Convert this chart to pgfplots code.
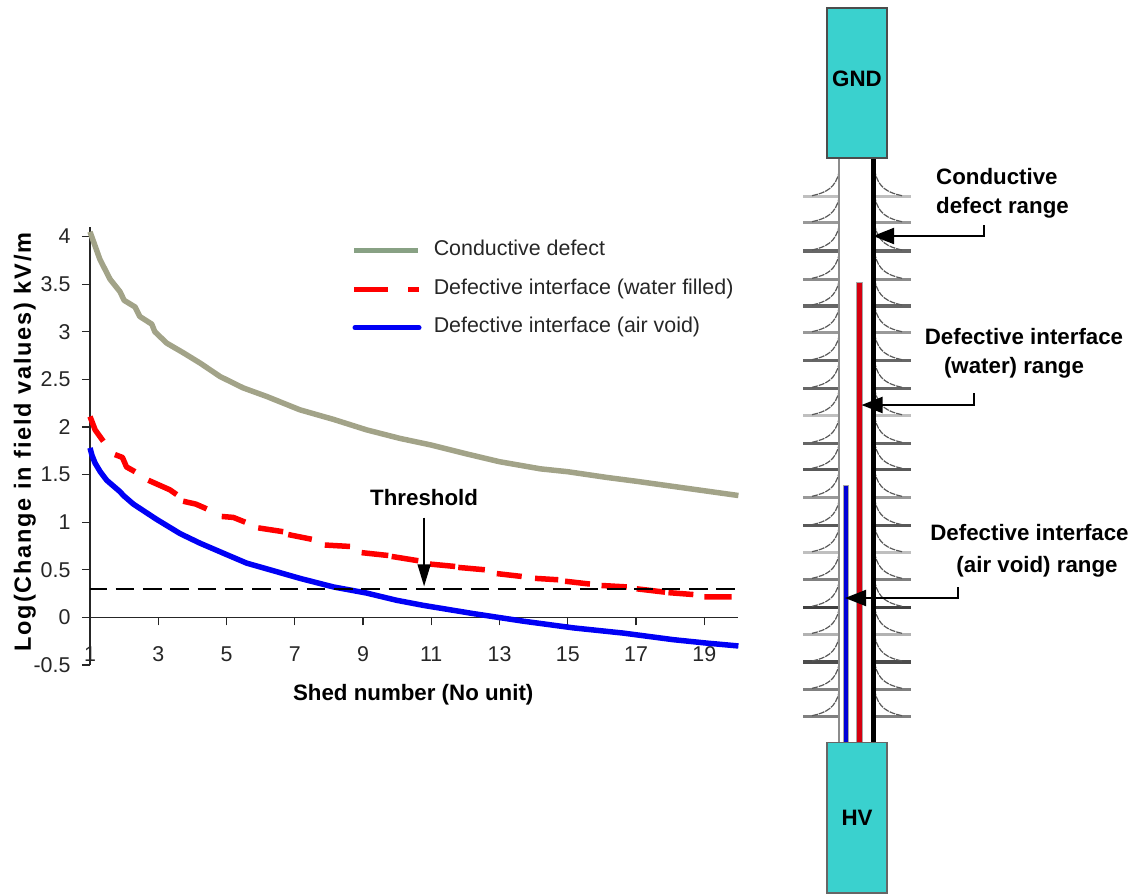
\documentclass[border=0pt]{standalone}
\usepackage{pgfplots}
\pgfplotsset{compat=1.18}
\usepackage{fontspec}
\setmainfont{Liberation Sans}
\usetikzlibrary{arrows.meta}
\newcommand\lab{\fontsize{21.4}{25}\selectfont\color{black!85}}
\newcommand\blab{\fontsize{22.3}{26}\selectfont\bfseries}
\newcommand\ylab{\fontsize{23.5}{26}\selectfont\bfseries\addfontfeature{LetterSpace=7.8}}
\newcommand\shed[2]{%
 \draw[line width=3.5pt,color=black!#2] (803,#1)--(839,#1) (876,#1)--(911,#1);
 \draw[line width=1.2pt,color=black!65,dash pattern=on 6pt off 1pt] (812,#1-1) .. controls (826,#1-4) and (836,#1-9) .. (839,#1-25);
 \draw[line width=1.2pt,color=black!65,dash pattern=on 6pt off 1pt] (902,#1-1) .. controls (888,#1-4) and (878,#1-9) .. (875,#1-25);
}
\definecolor{teal1}{HTML}{3AD1CE}
\definecolor{cond}{HTML}{A2A388}
\definecolor{condleg}{HTML}{88A184}
\begin{document}
\begin{tikzpicture}
\useasboundingbox (0pt,0pt) rectangle (1135pt,895pt);
% ---------- diagram ----------
\begin{axis}[at={(0pt,0pt)},anchor=south west,scale only axis,width=1135pt,height=895pt,
  xmin=0,xmax=1135,ymin=0,ymax=895,y dir=reverse,hide axis,clip=false]
\shed{196.7}{25}\shed{222.7}{40}\shed{251}{60}\shed{279.3}{45}\shed{306}{60}
\shed{332.7}{40}\shed{360.7}{60}\shed{388.3}{60}\shed{415.7}{25}\shed{443.3}{60}
\shed{469.3}{65}\shed{497.3}{40}\shed{525.7}{65}\shed{552.7}{25}\shed{579.3}{50}
\shed{607.3}{75}\shed{634.3}{30}\shed{662}{70}\shed{689.3}{50}\shed{716.7}{50}
\fill[white] (839.8,158) rectangle (871,742);
\draw[line width=1.5pt,color=black!45] (839,158)--(839,742);
\draw[line width=6.5pt,color=black!35] (859.7,282)--(859.7,742);
\draw[line width=4.6pt,color={rgb,255:red,214;green,0;blue,16}] (859.7,282.5)--(859.7,742);
\draw[line width=6.5pt,color=black!35] (846,485)--(846,742);
\draw[line width=4.6pt,color={rgb,255:red,0;green,0;blue,214}] (846,485.5)--(846,742);
\draw[line width=5pt,color=black] (873.3,158)--(873.3,742);
\draw[line width=1.6pt,color=black!70,fill=teal1] (826.7,8) rectangle (887,158);
\draw[line width=1.6pt,color=black!60,fill=teal1] (826.7,742.3) rectangle (887,892.7);
\node[font=\blab] at (857,79) {GND};
\node[font=\blab] at (857,818) {HV};
\draw[line width=2pt,-{Triangle[length=21pt,width=16pt]}] (984,225)--(984,236)--(873,236);
\draw[line width=2pt,-{Triangle[length=21pt,width=16pt]}] (974,393)--(974,405)--(861.5,405);
\draw[line width=2pt,-{Triangle[length=21pt,width=16pt]}] (957.7,587)--(957.7,598)--(845,598);
\node[font=\blab,anchor=west,inner sep=0pt] at (936,177) {Conductive};
\node[font=\blab,anchor=west,inner sep=0pt] at (936,208) {defect range};
\node[font=\blab,anchor=center,inner sep=0pt] at (1024,337) {Defective interface};
\node[font=\blab,anchor=center,inner sep=0pt] at (1014,368) {(water) range};
\node[font=\blab,anchor=center,inner sep=0pt] at (1029.5,533) {Defective interface};
\node[font=\blab,anchor=center,inner sep=0pt] at (1037,566.7) {(air void) range};
\end{axis}
% ---------- chart ----------
\begin{axis}[at={(90pt,230pt)},anchor=south west,scale only axis,width=648.4pt,height=438pt,
  xmin=1,xmax=20,ymin=-0.5,ymax=4.1,clip=false,
  axis x line=middle,axis y line=left,axis line style={-,line width=1.4pt,black!85},
  hide obscured x ticks=false,hide obscured y ticks=false,
  tick align=outside,major tick length=8pt,tick style={line width=1.2pt,black!85},
  xtick={1,3,5,7,9,11,13,15,17,19},
  ytick={-0.5,0,0.5,1,1.5,2,2.5,3,3.5,4},
  yticklabels={-0.5,0,0.5,1,1.5,2,2.5,3,3.5,4},
  xticklabels={1,3,5,7,9,11,13,15,17,19},
  ticklabel style={font=\lab},
  xticklabel style={anchor=center,yshift=-29pt},
  yticklabel style={xshift=-8pt},
  xlabel={Shed number (No unit)},ylabel={Log(Change in field values) kV/m},
  every axis x label/.style={at={(axis description cs:0.4985,-0.069)},anchor=center,font=\blab},
  every axis y label/.style={at={(axis description cs:-0.1003,0.509)},anchor=center,rotate=90,font=\ylab},
  unbounded coords=jump,
  legend style={at={(axis description cs:0.403,0.969)},anchor=north west,draw=none,fill=none,
    font=\lab,row sep=18.5pt,inner sep=0pt,
    nodes={inner sep=0pt,text height=15pt,text depth=5pt}},
  legend cell align=left,
  line join=round]
\addplot[color=cond,line width=5.5pt,
  legend image code/.code={\draw[color=condleg,line width=5pt] (0pt,0pt)--(64pt,0pt);\path (77pt,0pt);}]
 coordinates {(1,4.05)(1.15,3.9)(1.29,3.76)(1.59,3.55)(1.88,3.42)(2.0,3.33)(2.32,3.26)(2.46,3.16)(2.81,3.08)
 (2.9,3.0)(3.25,2.88)(3.73,2.78)(4.23,2.67)(4.81,2.53)(5.49,2.41)(6.18,2.32)(7.15,2.18)(8.13,2.08)(9.1,1.97)
 (10.08,1.88)(11,1.81)(12,1.72)(13,1.635)(14.2,1.56)(15,1.53)(16.14,1.47)(17,1.43)(18.08,1.376)(19,1.33)(20,1.28)};
\addlegendentry{Conductive defect}
\addplot[color=red,line width=5.5pt,
  legend image code/.code={\draw[color=red,line width=5pt,dash pattern=on 34pt off 20pt on 11pt] (0pt,0pt)--(65pt,0pt);\path (77pt,0pt);}]
 coordinates {(1,2.11)(1.15,1.97)(1.39,1.85)(1.39,nan)
 (1.73,1.71)(1.95,1.68)(2.07,1.58)(2.32,1.53)(2.32,nan)
 (2.71,1.44)(3.34,1.34)(3.54,1.29)(3.54,nan)
 (3.73,1.22)(4.1,1.19)(4.42,1.14)(4.42,nan)
 (4.86,1.06)(5.2,1.05)(5.55,1.0)(5.55,nan)
 (5.93,.94)(6.66,.90)(6.66,nan)
 (6.81,.87)(7.5,.82)(7.5,nan)
 (7.88,.76)(8.62,.745)(8.62,nan)
 (8.96,.68)(9.74,.65)(9.74,nan)
 (9.84,.64)(10.62,.595)(10.62,nan)
 (10.96,.56)(11.7,.535)(11.7,nan)
 (11.79,.525)(12.57,.50)(12.57,nan)
 (12.92,.46)(13.65,.43)(13.65,nan)
 (14.04,.41)(14.72,.395)(14.72,nan)
 (14.92,.38)(15.65,.35)(15.65,nan)
 (15.99,.335)(16.73,.32)(16.73,nan)
 (17.02,.30)(17.85,.265)(17.85,nan)
 (17.95,.26)(18.68,.24)(18.68,nan)
 (19.0,.215)(19.8,.215)};
\addlegendentry{Defective interface (water filled)}
\addplot[color={rgb,255:red,0;green,0;blue,245},line width=5.5pt,
  legend image code/.code={\draw[color={rgb,255:red,0;green,0;blue,245},line width=5pt,line cap=round] (1pt,0pt)--(65pt,0pt);\path (77pt,0pt);}]
 coordinates {(1,1.78)(1.06,1.70)(1.15,1.62)(1.3,1.53)(1.49,1.44)(1.88,1.32)(1.98,1.28)(2.27,1.19)(2.95,1.03)(3.64,.88)(4.22,.78)(5,.66)
 (5.59,.57)(6.47,.48)(7.15,.41)(8.13,.32)(9.1,.256)(9.98,.18)(10.77,.126)(12.23,.04)(13.7,-.04)(15.16,-.11)(16.63,-.165)
 (18.09,-.234)(19.07,-.27)(20,-.30)};
\addlegendentry{Defective interface (air void)}
\addplot[forget plot,color=black,line width=1.5pt,dash pattern=on 18.5pt off 8.8pt,dash phase=1.6pt] coordinates {(1,.3)(20,.3)};
\node[font=\blab,inner sep=0pt] at (axis cs:10.79,1.26) {Threshold};
\draw[line width=1.4pt,-{Triangle[length=22pt,width=13pt]}] (axis cs:10.79,1.047)--(axis cs:10.79,.326);
\end{axis}
\end{tikzpicture}
\end{document}
